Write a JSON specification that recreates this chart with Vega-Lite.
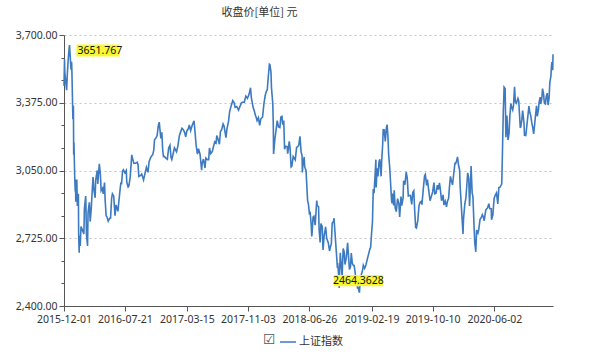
{
 "$schema": "https://vega.github.io/schema/vega-lite/v6.json",
 "width": 489, "height": 271,
 "autosize": {"type": "none"},
 "padding": {"left": 64, "top": 35, "right": 47, "bottom": 53},
 "background": "white",
 "config": {"view": {"stroke": null}},
 "title": {"text": "收盘价[单位] 元", "fontSize": 11, "font": "Noto Sans CJK SC", "fontWeight": "normal", "color": "#333333", "anchor": "middle", "dx": -49, "frame": "group", "offset": 12},
 "data": {"values": [
{"date":"2015-12-01","value":3456},{"date":"2015-12-03","value":3584},{"date":"2015-12-04","value":3525},{"date":"2015-12-08","value":3470},{"date":"2015-12-11","value":3435},{"date":"2015-12-14","value":3520},{"date":"2015-12-17","value":3580},{"date":"2015-12-21","value":3642},{"date":"2015-12-22","value":3651.767},{"date":"2015-12-24","value":3612},{"date":"2015-12-28","value":3533},{"date":"2015-12-30","value":3572},{"date":"2015-12-31","value":3539},
{"date":"2016-01-04","value":3296},{"date":"2016-01-06","value":3361},{"date":"2016-01-07","value":3125},{"date":"2016-01-08","value":3186},{"date":"2016-01-11","value":3016},{"date":"2016-01-13","value":2949},{"date":"2016-01-14","value":3007},{"date":"2016-01-15","value":2900},{"date":"2016-01-19","value":3007},{"date":"2016-01-21","value":2880},{"date":"2016-01-25","value":2938},{"date":"2016-01-26","value":2749},{"date":"2016-01-28","value":2656},{"date":"2016-01-29","value":2737},{"date":"2016-02-01","value":2688},{"date":"2016-02-04","value":2781},{"date":"2016-02-15","value":2746},{"date":"2016-02-17","value":2867},{"date":"2016-02-22","value":2927},{"date":"2016-02-25","value":2741},{"date":"2016-02-29","value":2688},{"date":"2016-03-02","value":2849},{"date":"2016-03-07","value":2897},{"date":"2016-03-10","value":2805},{"date":"2016-03-14","value":2864},{"date":"2016-03-18","value":2955},{"date":"2016-03-21","value":3018},{"date":"2016-03-24","value":2960},{"date":"2016-03-29","value":2919},{"date":"2016-03-31","value":3003},{"date":"2016-04-06","value":3050},{"date":"2016-04-08","value":2985},{"date":"2016-04-14","value":3082},{"date":"2016-04-18","value":3033},{"date":"2016-04-21","value":2953},{"date":"2016-04-26","value":2964},{"date":"2016-04-29","value":2938},{"date":"2016-05-04","value":2992},{"date":"2016-05-06","value":2913},{"date":"2016-05-10","value":2833},{"date":"2016-05-13","value":2828},{"date":"2016-05-18","value":2807},{"date":"2016-05-24","value":2821},{"date":"2016-05-27","value":2822},{"date":"2016-05-31","value":2917},{"date":"2016-06-03","value":2938},{"date":"2016-06-08","value":2927},{"date":"2016-06-13","value":2833},{"date":"2016-06-17","value":2885},{"date":"2016-06-24","value":2854},{"date":"2016-06-30","value":2930},{"date":"2016-07-05","value":2989},{"date":"2016-07-08","value":2988},{"date":"2016-07-12","value":3049},{"date":"2016-07-15","value":3054},{"date":"2016-07-21","value":3039},{"date":"2016-07-26","value":3050},{"date":"2016-07-28","value":2994},{"date":"2016-08-02","value":2971},{"date":"2016-08-05","value":2976},{"date":"2016-08-10","value":3018},{"date":"2016-08-16","value":3125},{"date":"2016-08-19","value":3108},{"date":"2016-08-24","value":3085},{"date":"2016-08-31","value":3085},{"date":"2016-09-06","value":3090},{"date":"2016-09-09","value":3078},{"date":"2016-09-12","value":3021},{"date":"2016-09-19","value":3026},{"date":"2016-09-23","value":3033},{"date":"2016-09-30","value":3005},{"date":"2016-10-11","value":3065},{"date":"2016-10-17","value":3041},{"date":"2016-10-21","value":3091},{"date":"2016-10-27","value":3112},{"date":"2016-11-01","value":3122},{"date":"2016-11-04","value":3125},{"date":"2016-11-08","value":3147},{"date":"2016-11-11","value":3197},{"date":"2016-11-16","value":3205},{"date":"2016-11-21","value":3218},{"date":"2016-11-25","value":3262},{"date":"2016-11-29","value":3282},{"date":"2016-12-02","value":3243},{"date":"2016-12-05","value":3204},{"date":"2016-12-09","value":3233},{"date":"2016-12-12","value":3152},{"date":"2016-12-15","value":3117},{"date":"2016-12-19","value":3118},{"date":"2016-12-23","value":3110},{"date":"2016-12-30","value":3104},
{"date":"2017-01-04","value":3158},{"date":"2017-01-09","value":3171},{"date":"2017-01-13","value":3113},{"date":"2017-01-16","value":3103},{"date":"2017-01-20","value":3123},{"date":"2017-01-26","value":3159},{"date":"2017-02-03","value":3140},{"date":"2017-02-08","value":3166},{"date":"2017-02-14","value":3217},{"date":"2017-02-20","value":3240},{"date":"2017-02-24","value":3253},{"date":"2017-03-01","value":3246},{"date":"2017-03-06","value":3233},{"date":"2017-03-10","value":3212},{"date":"2017-03-15","value":3241},{"date":"2017-03-20","value":3250},{"date":"2017-03-24","value":3269},{"date":"2017-03-29","value":3241},{"date":"2017-04-05","value":3270},{"date":"2017-04-11","value":3288},{"date":"2017-04-14","value":3246},{"date":"2017-04-19","value":3171},{"date":"2017-04-24","value":3129},{"date":"2017-04-28","value":3155},{"date":"2017-05-04","value":3128},{"date":"2017-05-10","value":3052},{"date":"2017-05-12","value":3083},{"date":"2017-05-17","value":3105},{"date":"2017-05-23","value":3062},{"date":"2017-05-26","value":3110},{"date":"2017-06-01","value":3102},{"date":"2017-06-06","value":3102},{"date":"2017-06-09","value":3158},{"date":"2017-06-14","value":3131},{"date":"2017-06-20","value":3141},{"date":"2017-06-23","value":3158},{"date":"2017-06-29","value":3188},{"date":"2017-07-04","value":3182},{"date":"2017-07-07","value":3218},{"date":"2017-07-11","value":3203},{"date":"2017-07-17","value":3176},{"date":"2017-07-21","value":3237},{"date":"2017-07-26","value":3247},{"date":"2017-07-31","value":3273},{"date":"2017-08-04","value":3262},{"date":"2017-08-11","value":3208},{"date":"2017-08-15","value":3251},{"date":"2017-08-21","value":3287},{"date":"2017-08-25","value":3332},{"date":"2017-08-31","value":3361},{"date":"2017-09-06","value":3385},{"date":"2017-09-11","value":3376},{"date":"2017-09-15","value":3353},{"date":"2017-09-21","value":3357},{"date":"2017-09-28","value":3340},{"date":"2017-10-09","value":3374},{"date":"2017-10-16","value":3378},{"date":"2017-10-20","value":3378},{"date":"2017-10-26","value":3407},{"date":"2017-11-01","value":3396},{"date":"2017-11-07","value":3414},{"date":"2017-11-13","value":3447},{"date":"2017-11-16","value":3399},{"date":"2017-11-23","value":3352},{"date":"2017-11-28","value":3333},{"date":"2017-12-01","value":3317},{"date":"2017-12-05","value":3303},{"date":"2017-12-08","value":3289},{"date":"2017-12-13","value":3303},{"date":"2017-12-18","value":3267},{"date":"2017-12-22","value":3297},{"date":"2017-12-29","value":3307},
{"date":"2018-01-03","value":3369},{"date":"2018-01-08","value":3410},{"date":"2018-01-12","value":3429},{"date":"2018-01-16","value":3437},{"date":"2018-01-19","value":3488},{"date":"2018-01-24","value":3560},{"date":"2018-01-26","value":3558},{"date":"2018-01-30","value":3523},{"date":"2018-02-01","value":3447},{"date":"2018-02-06","value":3370},{"date":"2018-02-08","value":3262},{"date":"2018-02-09","value":3129},{"date":"2018-02-14","value":3200},{"date":"2018-02-23","value":3289},{"date":"2018-02-28","value":3259},{"date":"2018-03-05","value":3256},{"date":"2018-03-09","value":3307},{"date":"2018-03-13","value":3310},{"date":"2018-03-16","value":3270},{"date":"2018-03-20","value":3290},{"date":"2018-03-23","value":3152},{"date":"2018-03-27","value":3166},{"date":"2018-04-02","value":3164},{"date":"2018-04-04","value":3131},{"date":"2018-04-10","value":3190},{"date":"2018-04-13","value":3159},{"date":"2018-04-17","value":3067},{"date":"2018-04-20","value":3071},{"date":"2018-04-25","value":3117},{"date":"2018-05-03","value":3101},{"date":"2018-05-08","value":3161},{"date":"2018-05-11","value":3163},{"date":"2018-05-16","value":3170},{"date":"2018-05-21","value":3214},{"date":"2018-05-25","value":3141},{"date":"2018-05-29","value":3120},{"date":"2018-05-30","value":3041},{"date":"2018-06-01","value":3075},{"date":"2018-06-06","value":3115},{"date":"2018-06-08","value":3067},{"date":"2018-06-13","value":3050},{"date":"2018-06-19","value":2907},{"date":"2018-06-22","value":2890},{"date":"2018-06-26","value":2844},{"date":"2018-06-29","value":2847},{"date":"2018-07-03","value":2786},{"date":"2018-07-05","value":2734},{"date":"2018-07-06","value":2747},{"date":"2018-07-10","value":2827},{"date":"2018-07-13","value":2831},{"date":"2018-07-18","value":2788},{"date":"2018-07-24","value":2906},{"date":"2018-07-26","value":2882},{"date":"2018-07-31","value":2876},{"date":"2018-08-02","value":2768},{"date":"2018-08-06","value":2705},{"date":"2018-08-09","value":2795},{"date":"2018-08-14","value":2781},{"date":"2018-08-17","value":2669},{"date":"2018-08-21","value":2733},{"date":"2018-08-27","value":2780},{"date":"2018-08-31","value":2725},{"date":"2018-09-06","value":2704},{"date":"2018-09-11","value":2664},{"date":"2018-09-14","value":2682},{"date":"2018-09-18","value":2700},{"date":"2018-09-21","value":2797},{"date":"2018-09-26","value":2806},{"date":"2018-09-28","value":2821},{"date":"2018-10-11","value":2583},{"date":"2018-10-12","value":2606},{"date":"2018-10-16","value":2546},{"date":"2018-10-18","value":2486},{"date":"2018-10-19","value":2550},{"date":"2018-10-22","value":2655},{"date":"2018-10-25","value":2603},{"date":"2018-10-29","value":2542},{"date":"2018-11-02","value":2676},{"date":"2018-11-06","value":2659},{"date":"2018-11-09","value":2599},{"date":"2018-11-14","value":2632},{"date":"2018-11-19","value":2703},{"date":"2018-11-22","value":2646},{"date":"2018-11-26","value":2575},{"date":"2018-11-30","value":2588},{"date":"2018-12-03","value":2654},{"date":"2018-12-07","value":2605},{"date":"2018-12-11","value":2594},{"date":"2018-12-14","value":2594},{"date":"2018-12-19","value":2549},{"date":"2018-12-24","value":2527},{"date":"2018-12-27","value":2483},{"date":"2018-12-28","value":2494},
{"date":"2019-01-03","value":2464.3628},{"date":"2019-01-07","value":2533},{"date":"2019-01-11","value":2554},{"date":"2019-01-15","value":2570},{"date":"2019-01-18","value":2596},{"date":"2019-01-23","value":2581},{"date":"2019-01-28","value":2597},{"date":"2019-02-01","value":2618},{"date":"2019-02-12","value":2673},{"date":"2019-02-15","value":2682},{"date":"2019-02-19","value":2756},{"date":"2019-02-22","value":2804},{"date":"2019-02-25","value":2961},{"date":"2019-02-28","value":2941},{"date":"2019-03-04","value":3027},{"date":"2019-03-07","value":3102},{"date":"2019-03-08","value":2969},{"date":"2019-03-12","value":3061},{"date":"2019-03-15","value":3022},{"date":"2019-03-19","value":3091},{"date":"2019-03-22","value":3104},{"date":"2019-03-27","value":3022},{"date":"2019-03-29","value":3090},{"date":"2019-04-02","value":3176},{"date":"2019-04-04","value":3246},{"date":"2019-04-08","value":3245},{"date":"2019-04-12","value":3189},{"date":"2019-04-16","value":3253},{"date":"2019-04-19","value":3270},{"date":"2019-04-22","value":3215},{"date":"2019-04-25","value":3124},{"date":"2019-04-29","value":3062},{"date":"2019-05-06","value":2906},{"date":"2019-05-08","value":2893},{"date":"2019-05-10","value":2939},{"date":"2019-05-14","value":2883},{"date":"2019-05-16","value":2955},{"date":"2019-05-20","value":2870},{"date":"2019-05-24","value":2853},{"date":"2019-05-29","value":2915},{"date":"2019-06-03","value":2890},{"date":"2019-06-06","value":2827},{"date":"2019-06-11","value":2925},{"date":"2019-06-14","value":2882},{"date":"2019-06-19","value":2917},{"date":"2019-06-21","value":3001},{"date":"2019-06-26","value":2982},{"date":"2019-07-01","value":3044},{"date":"2019-07-05","value":3012},{"date":"2019-07-09","value":2928},{"date":"2019-07-12","value":2930},{"date":"2019-07-17","value":2931},{"date":"2019-07-22","value":2887},{"date":"2019-07-26","value":2944},{"date":"2019-07-30","value":2952},{"date":"2019-08-02","value":2868},{"date":"2019-08-06","value":2777},{"date":"2019-08-09","value":2774},{"date":"2019-08-14","value":2808},{"date":"2019-08-19","value":2883},{"date":"2019-08-23","value":2898},{"date":"2019-08-27","value":2902},{"date":"2019-08-30","value":2886},{"date":"2019-09-04","value":2957},{"date":"2019-09-09","value":3025},{"date":"2019-09-12","value":3031},{"date":"2019-09-17","value":2979},{"date":"2019-09-20","value":3006},{"date":"2019-09-25","value":2955},{"date":"2019-09-30","value":2905},{"date":"2019-10-10","value":2947},{"date":"2019-10-15","value":2992},{"date":"2019-10-18","value":2938},{"date":"2019-10-23","value":2941},{"date":"2019-10-28","value":2980},{"date":"2019-11-01","value":2958},{"date":"2019-11-05","value":2991},{"date":"2019-11-08","value":2964},{"date":"2019-11-13","value":2905},{"date":"2019-11-19","value":2933},{"date":"2019-11-22","value":2885},{"date":"2019-11-27","value":2903},{"date":"2019-12-02","value":2876},{"date":"2019-12-05","value":2900},{"date":"2019-12-10","value":2917},{"date":"2019-12-13","value":2968},{"date":"2019-12-17","value":3022},{"date":"2019-12-20","value":3004},{"date":"2019-12-25","value":2981},{"date":"2019-12-31","value":3050},
{"date":"2020-01-03","value":3084},{"date":"2020-01-06","value":3083},{"date":"2020-01-09","value":3094},{"date":"2020-01-13","value":3115},{"date":"2020-01-17","value":3075},{"date":"2020-01-21","value":3053},{"date":"2020-01-23","value":2977},{"date":"2020-02-03","value":2746},{"date":"2020-02-05","value":2818},{"date":"2020-02-10","value":2890},{"date":"2020-02-14","value":2917},{"date":"2020-02-18","value":2984},{"date":"2020-02-21","value":3039},{"date":"2020-02-25","value":3013},{"date":"2020-02-28","value":2880},{"date":"2020-03-03","value":2993},{"date":"2020-03-05","value":3071},{"date":"2020-03-09","value":2943},{"date":"2020-03-12","value":2924},{"date":"2020-03-16","value":2789},{"date":"2020-03-19","value":2702},{"date":"2020-03-23","value":2660},{"date":"2020-03-26","value":2764},{"date":"2020-03-31","value":2750},{"date":"2020-04-03","value":2764},{"date":"2020-04-08","value":2815},{"date":"2020-04-14","value":2827},{"date":"2020-04-17","value":2838},{"date":"2020-04-21","value":2827},{"date":"2020-04-24","value":2809},{"date":"2020-04-30","value":2860},{"date":"2020-05-07","value":2872},{"date":"2020-05-12","value":2891},{"date":"2020-05-15","value":2868},{"date":"2020-05-21","value":2867},{"date":"2020-05-22","value":2814},{"date":"2020-05-27","value":2836},{"date":"2020-06-01","value":2916},{"date":"2020-06-05","value":2931},{"date":"2020-06-10","value":2943},{"date":"2020-06-15","value":2890},{"date":"2020-06-19","value":2968},{"date":"2020-06-23","value":2969},{"date":"2020-06-30","value":2985},{"date":"2020-07-02","value":3091},{"date":"2020-07-06","value":3332},{"date":"2020-07-08","value":3403},{"date":"2020-07-09","value":3450},{"date":"2020-07-13","value":3443},{"date":"2020-07-16","value":3210},{"date":"2020-07-20","value":3314},{"date":"2020-07-24","value":3196},{"date":"2020-07-28","value":3228},{"date":"2020-07-31","value":3310},{"date":"2020-08-04","value":3371},{"date":"2020-08-07","value":3354},{"date":"2020-08-11","value":3340},{"date":"2020-08-14","value":3360},{"date":"2020-08-18","value":3451},{"date":"2020-08-21","value":3380},{"date":"2020-08-25","value":3373},{"date":"2020-08-31","value":3396},{"date":"2020-09-03","value":3384},{"date":"2020-09-09","value":3254},{"date":"2020-09-11","value":3260},{"date":"2020-09-15","value":3295},{"date":"2020-09-18","value":3338},{"date":"2020-09-23","value":3279},{"date":"2020-09-25","value":3219},{"date":"2020-09-30","value":3218},{"date":"2020-10-12","value":3359},{"date":"2020-10-15","value":3332},{"date":"2020-10-19","value":3313},{"date":"2020-10-23","value":3278},{"date":"2020-10-27","value":3254},{"date":"2020-10-30","value":3225},{"date":"2020-11-03","value":3272},{"date":"2020-11-06","value":3312},{"date":"2020-11-10","value":3360},{"date":"2020-11-13","value":3310},{"date":"2020-11-17","value":3339},{"date":"2020-11-20","value":3378},{"date":"2020-11-24","value":3402},{"date":"2020-11-26","value":3369},{"date":"2020-11-30","value":3392},{"date":"2020-12-03","value":3443},{"date":"2020-12-07","value":3416},{"date":"2020-12-10","value":3373},{"date":"2020-12-14","value":3369},{"date":"2020-12-17","value":3404},{"date":"2020-12-21","value":3421},{"date":"2020-12-24","value":3364},{"date":"2020-12-28","value":3397},{"date":"2020-12-31","value":3473},
{"date":"2021-01-04","value":3502},{"date":"2021-01-06","value":3550},{"date":"2021-01-08","value":3570},{"date":"2021-01-11","value":3531},{"date":"2021-01-12","value":3608}
 ]},
 "encoding": {
  "x": {"field": "date", "type": "temporal",
   "scale": {"type": "utc", "domain": [{"year": 2015, "month": 12, "date": 1, "utc": true}, {"year": 2021, "month": 1, "date": 12, "utc": true}]},
   "axis": {"title": null, "grid": false,
    "labelExpr": "utcFormat(datum.value, '%Y-%m-%d')",
    "values": [{"year": 2015, "month": 12, "date": 1, "utc": true}, {"year": 2016, "month": 7, "date": 21, "utc": true}, {"year": 2017, "month": 3, "date": 15, "utc": true}, {"year": 2017, "month": 11, "date": 3, "utc": true}, {"year": 2018, "month": 6, "date": 26, "utc": true}, {"year": 2019, "month": 2, "date": 19, "utc": true}, {"year": 2019, "month": 10, "date": 10, "utc": true}, {"year": 2020, "month": 6, "date": 2, "utc": true}],
    "tickSize": 5, "domainColor": "#555555", "tickColor": "#555555", "labelColor": "#333333", "labelFont": "Noto Sans", "labelFontSize": 10.5, "labelPadding": 3, "labelFlush": false, "labelOverlap": false}},
  "y": {"field": "value", "type": "quantitative",
   "scale": {"domain": [2400, 3700], "nice": false, "zero": false},
   "axis": {"title": null,
    "values": [2400, 2508.3333, 2616.6667, 2725, 2833.3333, 2941.6667, 3050, 3158.3333, 3266.6667, 3375, 3483.3333, 3591.6667, 3700],
    "labelExpr": "abs((datum.value-2400)/325 - round((datum.value-2400)/325)) < 0.01 ? format(datum.value, ',.2f') : ''",
    "grid": true, "gridDash": [2, 3], "gridColor": "#c4c4c4",
    "gridOpacity": {"condition": {"test": "abs((datum.value-2400)/325 - round((datum.value-2400)/325)) < 0.01", "value": 1}, "value": 0},
    "tickSize": {"condition": {"test": "abs((datum.value-2400)/325 - round((datum.value-2400)/325)) < 0.01", "value": 5}, "value": 3},
    "domainColor": "#555555", "tickColor": "#555555", "labelColor": "#333333", "labelFont": "Noto Sans", "labelFontSize": 10.5, "labelPadding": 2, "labelFlush": false, "labelOverlap": false}}
 },
 "layer": [
  {"mark": {"type": "line", "strokeWidth": 1.6},
   "encoding": {"color": {"datum": "上证指数", "type": "nominal", "scale": {"range": ["#3d7abf"]},
    "legend": {"orient": "none", "legendX": 199, "legendY": 298, "direction": "horizontal", "title": "☑", "titleOrient": "left", "titleFont": "DejaVu Sans", "titleFontSize": 14, "titleFontWeight": "normal", "titleColor": "#555555", "titlePadding": 3, "symbolType": "stroke", "symbolSize": 256, "symbolStrokeWidth": 1.5, "labelFont": "Noto Sans CJK SC", "labelFontSize": 11, "labelColor": "#333333", "labelOffset": 2}}}},
  {"transform": [{"filter": "datum.value === 3651.767"}],
   "mark": {"type": "point", "shape": "M-1,-0.28H1V0.28H-1Z", "size": 1849, "filled": true, "fill": "#f7f733", "strokeWidth": 0, "opacity": 1, "xOffset": 28.5, "yOffset": 5.5}},
  {"transform": [{"filter": "datum.value === 3651.767"}],
   "mark": {"type": "text", "align": "left", "baseline": "middle", "dx": 8, "dy": 5.5, "font": "Noto Sans", "fontSize": 10.5, "color": "#111111"},
   "encoding": {"text": {"field": "value", "type": "nominal"}}},
  {"transform": [{"filter": "datum.value === 2464.3628"}],
   "mark": {"type": "point", "shape": "M-1,-0.23H1V0.23H-1Z", "size": 2401, "filled": true, "fill": "#f7f733", "strokeWidth": 0, "opacity": 1, "xOffset": -1, "yOffset": -12}},
  {"transform": [{"filter": "datum.value === 2464.3628"}],
   "mark": {"type": "text", "align": "center", "baseline": "middle", "dx": -1, "dy": -12, "font": "Noto Sans", "fontSize": 10.5, "color": "#111111"},
   "encoding": {"text": {"field": "value", "type": "nominal"}}}
 ]
}
